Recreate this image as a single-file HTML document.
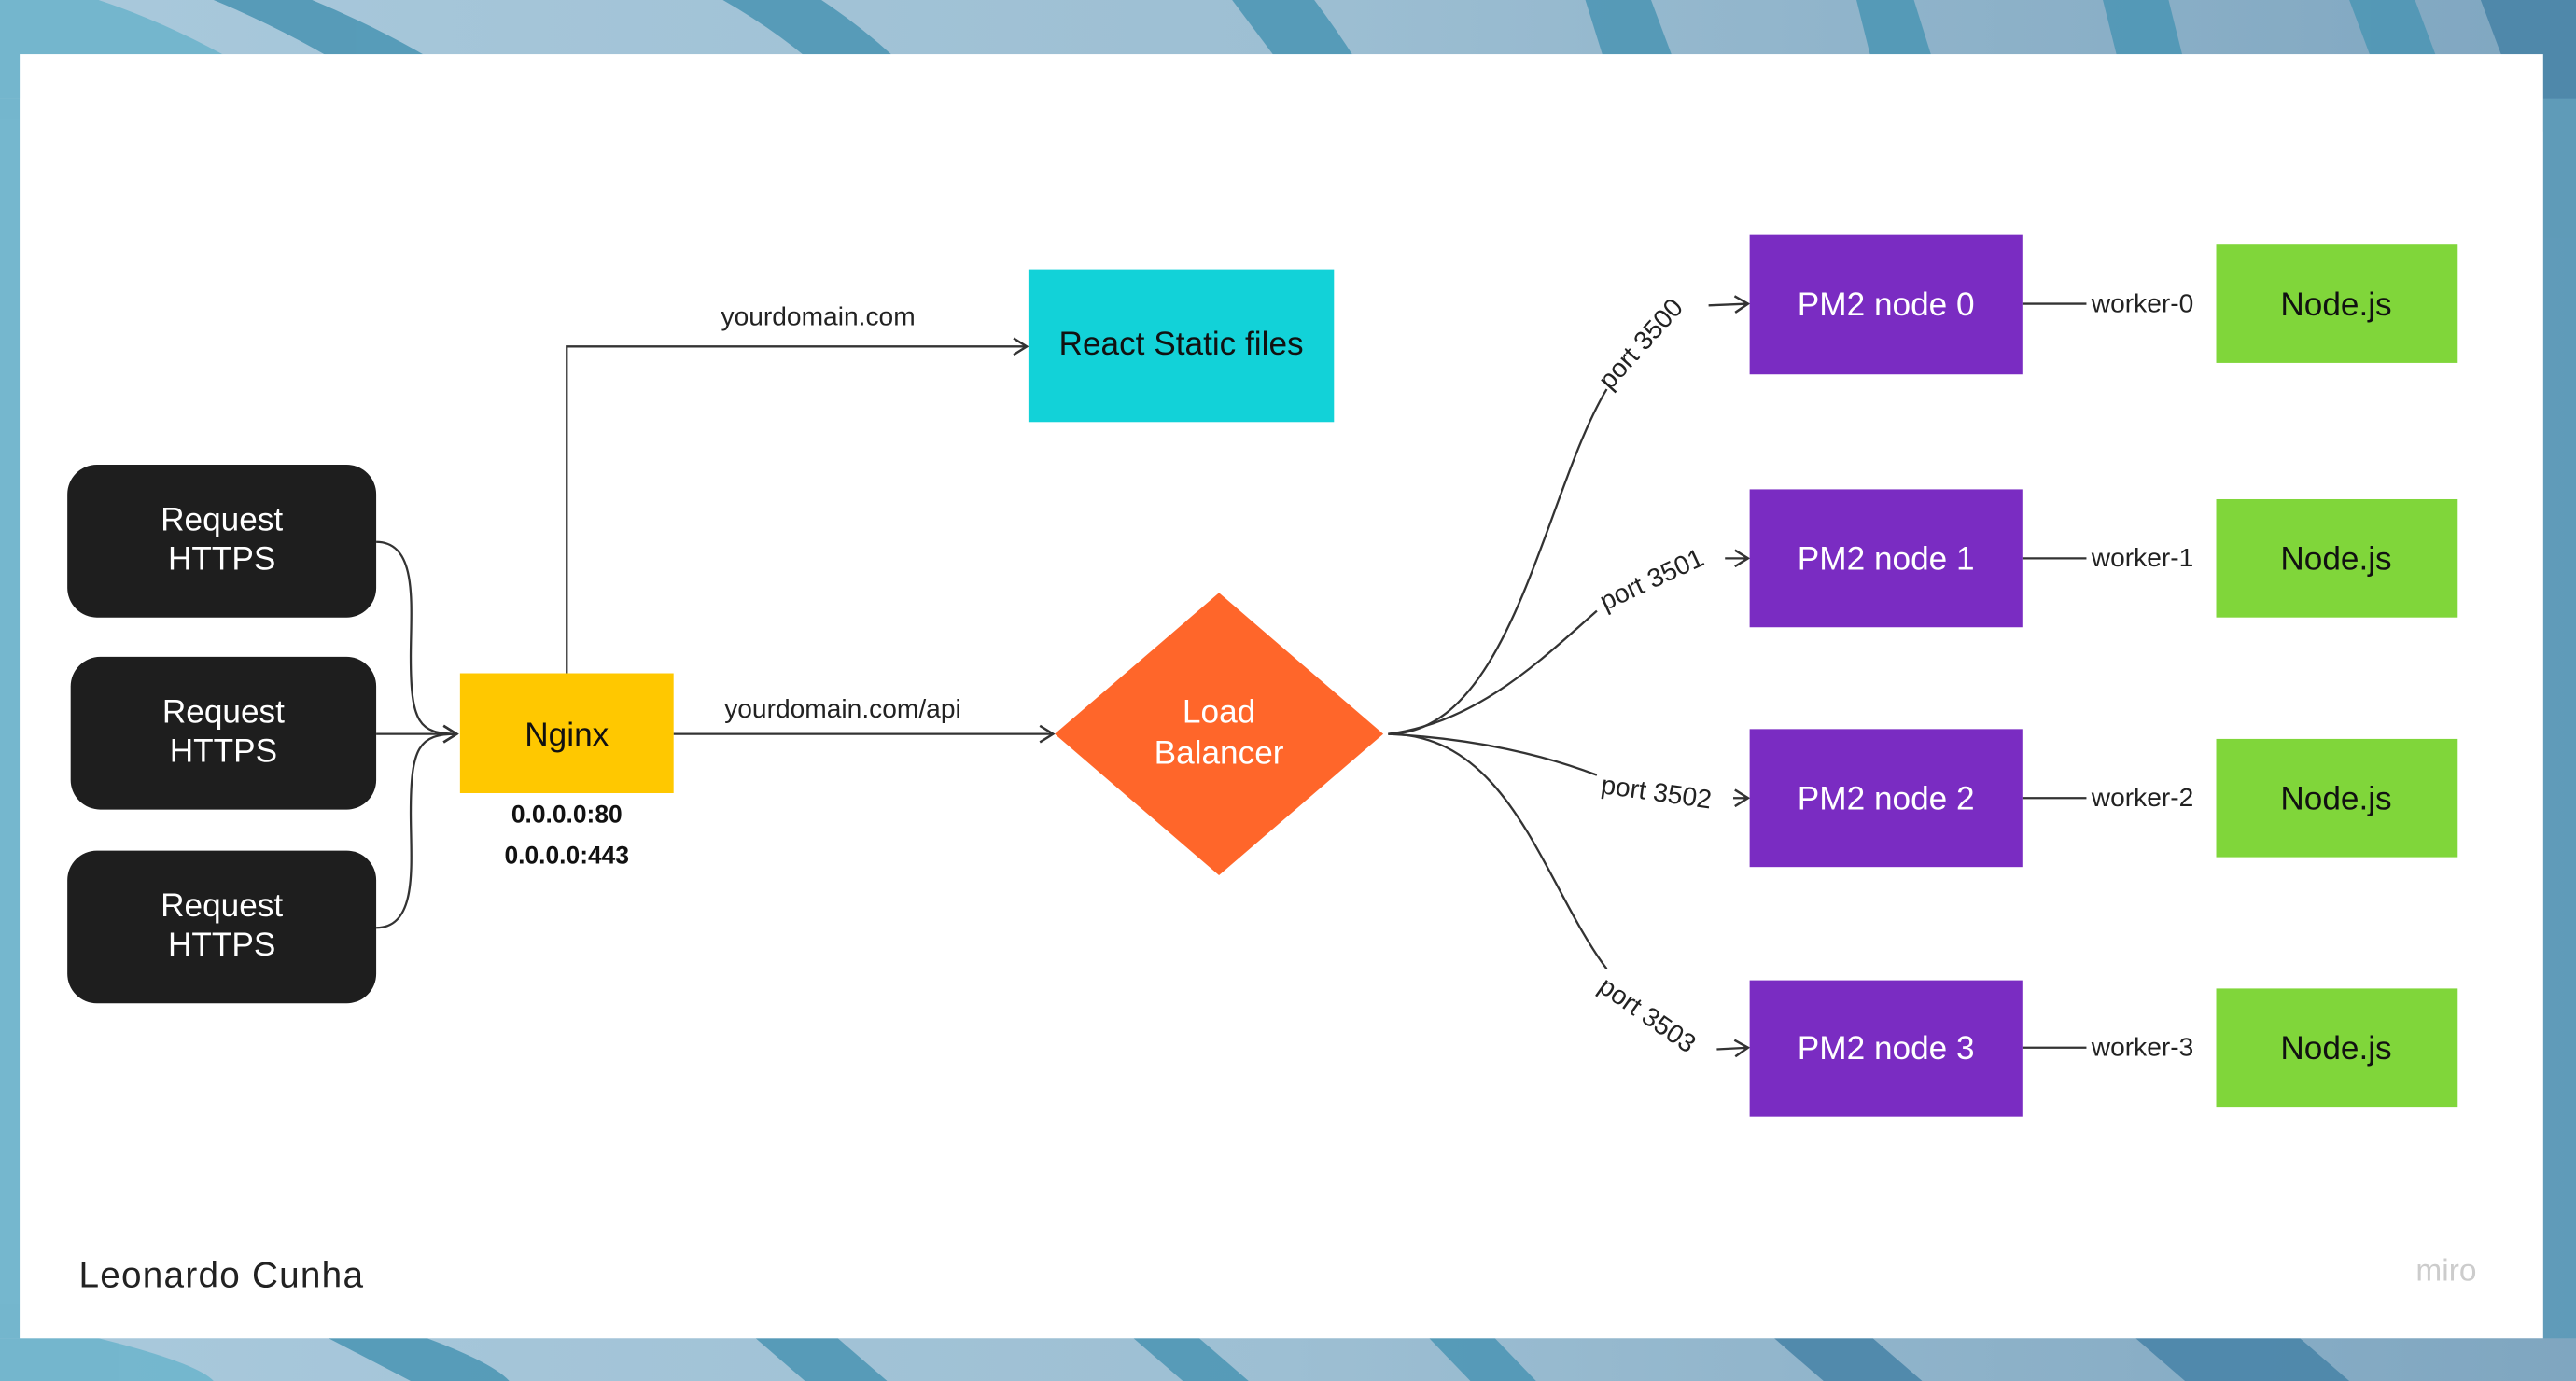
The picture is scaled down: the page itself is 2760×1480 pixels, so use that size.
<!DOCTYPE html>
<html><head><meta charset="utf-8"><style>
html,body{margin:0;padding:0;width:2760px;height:1480px;overflow:hidden;}
svg{display:block}
text{font-family:"Liberation Sans",sans-serif;}
</style></head><body>
<svg width="2760" height="1480" viewBox="0 0 1568 841" preserveAspectRatio="none" xmlns="http://www.w3.org/2000/svg">
<defs>
<linearGradient id="bg" x1="0" y1="0" x2="1" y2="0">
<stop offset="0" stop-color="#a9c9dc"/><stop offset="0.5" stop-color="#9dbfd3"/><stop offset="1" stop-color="#7fa6c0"/>
</linearGradient>
<marker id="ar" markerWidth="12" markerHeight="12" refX="10" refY="6" orient="auto" markerUnits="userSpaceOnUse">
<path d="M2,1 L10,6 L2,11" fill="none" stroke="#333" stroke-width="1.4"/>
</marker>
</defs>
<rect width="1568" height="841" fill="url(#bg)"/>
<g fill="#4f97b5" opacity="0.9">
<path d="M0,0 L60,0 Q120,20 180,60 L0,60 Z" fill="#6fb5cc"/>
<path d="M130,0 L190,0 Q250,25 300,60 L240,60 Q190,25 130,0Z"/>
<path d="M440,0 L500,0 Q560,40 600,100 L550,100 Q510,40 440,0Z"/>
<path d="M750,0 L800,0 Q830,40 850,80 L810,80 Q780,40 750,0Z"/>
<path d="M965,0 L1005,0 L1035,80 L990,80Z"/>
<path d="M1130,0 L1165,0 L1190,80 L1150,80Z"/>
<path d="M1280,0 L1320,0 L1340,80 L1300,80Z"/>
<path d="M1430,0 L1470,0 L1500,80 L1460,80Z"/>
<path d="M1510,0 L1568,0 L1568,80 L1540,80Z" fill="#4a85a8"/>
<path d="M0,815 L60,815 Q120,830 130,841 L0,841Z" fill="#6fb5cc"/>
<path d="M200,815 L260,815 Q300,830 310,841 L250,841Z"/>
<path d="M460,815 L510,815 L540,841 L490,841Z"/>
<path d="M690,815 L730,815 L760,841 L720,841Z"/>
<path d="M870,815 L910,815 L935,841 L895,841Z"/>
<path d="M1080,815 L1140,815 L1170,841 L1110,841Z" fill="#4a85a8"/>
<path d="M1300,815 L1400,815 L1430,841 L1330,841Z" fill="#4a85a8"/>
<path d="M0,60 L12,60 L12,815 L0,815Z" fill="#6fb5cc"/>
<path d="M1548,60 L1568,60 L1568,815 L1548,815Z" fill="#5c9ab8"/>
</g>
<rect x="12" y="33" width="1536" height="782" fill="#fff"/>

<g fill="#1e1e1e">
<rect x="41" y="283" width="188" height="93" rx="18"/>
<rect x="43" y="400" width="186" height="93" rx="18"/>
<rect x="41" y="518" width="188" height="93" rx="18"/>
</g>
<g fill="#fff" font-size="20" text-anchor="middle">
<text x="135" y="323">Request</text><text x="135" y="347">HTTPS</text>
<text x="136" y="440">Request</text><text x="136" y="464">HTTPS</text>
<text x="135" y="558">Request</text><text x="135" y="582">HTTPS</text>
</g>
<g fill="none" stroke="#333" stroke-width="1.3">
<path d="M229,330 C255,330 250,370 250,400 C250,440 255,447 278,447" marker-end="url(#ar)"/>
<path d="M229,447 L278,447" marker-end="url(#ar)"/>
<path d="M229,565 C255,565 250,525 250,495 C250,455 255,447 278,447" marker-end="url(#ar)"/>
<path d="M345,410 L345,211 L625,211" marker-end="url(#ar)"/>
<path d="M410,447 L641,447" marker-end="url(#ar)"/>
<path d="M845,447 C920,447 940,300 978,237"/>
<path d="M845,447 C900,440 940,400 972,372"/>
<path d="M845,447 C900,450 940,460 972,472"/>
<path d="M845,447 C920,447 940,540 978,590"/>
<path d="M1040,186 L1064,185" marker-end="url(#ar)"/>
<path d="M1050,340 L1064,340" marker-end="url(#ar)"/>
<path d="M1055,486 L1064,486" marker-end="url(#ar)"/>
<path d="M1045,639 L1064,638" marker-end="url(#ar)"/>
<path d="M1231,185 L1270,185 M1231,340 L1270,340 M1231,486 L1270,486 M1231,638 L1270,638"/>
</g>
<rect x="280" y="410" width="130" height="73" fill="#ffc800"/>
<text x="345" y="454" font-size="20" text-anchor="middle" fill="#111">Nginx</text>
<text x="345" y="501" font-size="15" font-weight="bold" text-anchor="middle" fill="#111">0.0.0.0:80</text>
<text x="345" y="526" font-size="15" font-weight="bold" text-anchor="middle" fill="#111">0.0.0.0:443</text>
<text x="498" y="198" font-size="16" text-anchor="middle" fill="#222">yourdomain.com</text>
<text x="513" y="437" font-size="16" text-anchor="middle" fill="#222">yourdomain.com/api</text>
<rect x="626" y="164" width="186" height="93" fill="#12d2d8"/>
<text x="719" y="216" font-size="20" text-anchor="middle" fill="#111">React Static files</text>
<path d="M742,361 L842,447 L742,533 L642,447Z" fill="#ff662a"/>
<text x="742" y="440" font-size="20" text-anchor="middle" fill="#fff">Load</text>
<text x="742" y="465" font-size="20" text-anchor="middle" fill="#fff">Balancer</text>
<g font-size="16" fill="#222">
<text transform="translate(980,238) rotate(-48)">port 3500</text>
<text transform="translate(977,372) rotate(-25)">port 3501</text>
<text transform="translate(974,483) rotate(8)">port 3502</text>
<text transform="translate(972,603) rotate(35)">port 3503</text>
</g>
<g fill="#7a2cc2">
<rect x="1065" y="143" width="166" height="85"/>
<rect x="1065" y="298" width="166" height="84"/>
<rect x="1065" y="444" width="166" height="84"/>
<rect x="1065" y="597" width="166" height="83"/>
</g>
<g fill="#fff" font-size="20" text-anchor="middle">
<text x="1148" y="192">PM2 node 0</text>
<text x="1148" y="347">PM2 node 1</text>
<text x="1148" y="493">PM2 node 2</text>
<text x="1148" y="645">PM2 node 3</text>
</g>
<g fill="#222" font-size="16">
<text x="1273" y="190">worker-0</text>
<text x="1273" y="345">worker-1</text>
<text x="1273" y="491">worker-2</text>
<text x="1273" y="643">worker-3</text>
</g>
<g fill="#80d63a">
<rect x="1349" y="149" width="147" height="72"/>
<rect x="1349" y="304" width="147" height="72"/>
<rect x="1349" y="450" width="147" height="72"/>
<rect x="1349" y="602" width="147" height="72"/>
</g>
<g fill="#111" font-size="20" text-anchor="middle">
<text x="1422" y="192">Node.js</text>
<text x="1422" y="347">Node.js</text>
<text x="1422" y="493">Node.js</text>
<text x="1422" y="645">Node.js</text>
</g>
<text x="48" y="784" font-size="22" fill="#222" textLength="173">Leonardo Cunha</text>
<text x="1489" y="780" font-size="19" fill="#ccc" text-anchor="middle">miro</text>
</svg>
</body></html>
